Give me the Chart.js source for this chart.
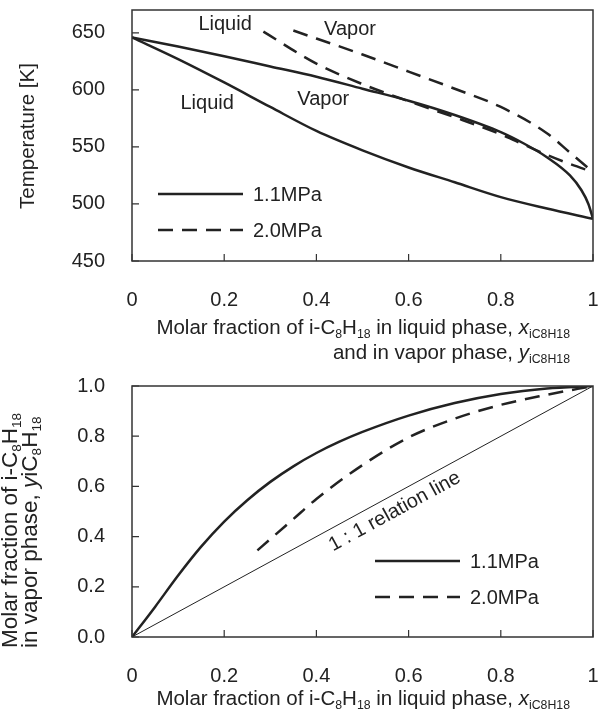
<!DOCTYPE html>
<html>
<head>
<meta charset="utf-8">
<script src="https://cdn.jsdelivr.net/npm/chart.js@4.4.1/dist/chart.umd.min.js"></script>
<style>
  body { margin: 0; background: #fff; }
  #page { position: relative; width: 601px; height: 709px; overflow: hidden;
          font-family: "Liberation Sans", Arial, sans-serif; color: #222; }
  canvas { position: absolute; left: 0; }
  .title { position: absolute; font-size: 20.5px; line-height: 20px; white-space: nowrap; }
  .title sub { font-size: 0.6em; vertical-align: -0.3em; line-height: 0; }
  .xt { right: 31px; text-align: right; }
  .yt { transform-origin: 0 0; transform: rotate(-90deg); }
</style>
</head>
<body>
<div id="page">
  <canvas id="tx" width="601" height="320" style="top:0"></canvas>
  <canvas id="xy" width="601" height="340" style="top:360px"></canvas>

  <div class="title xt" style="top:317px">Molar fraction of i-C<sub>8</sub>H<sub>18</sub> in liquid phase, <i>x</i><sub>iC8H18</sub></div>
  <div class="title xt" style="top:342px">and in vapor phase, <i>y</i><sub>iC8H18</sub></div>
  <div class="title yt" style="left:17px; top:236px; width:200px; text-align:center">Temperature [K]</div>

  <div class="title xt" style="top:688px">Molar fraction of i-C<sub>8</sub>H<sub>18</sub> in liquid phase, <i>x</i><sub>iC8H18</sub></div>
  <div class="title yt" style="left:0; top:648px; font-size:22.5px">Molar fraction of i-C<sub>8</sub>H<sub>18</sub><br>in vapor phase, <i>y</i>iC<sub>8</sub>H<sub>18</sub></div>
</div>
<script>
// ---- tick labels ----
const fracTicks = [0, 0.2, 0.4, 0.6, 0.8, 1];
const tempTicks = [450, 500, 550, 600, 650];
const vaporTicks = [0, 0.2, 0.4, 0.6, 0.8, 1.0];

// ---- T-x-y diagram ----
// 1.1 MPa liquid (bubble) line
const liq11X = [0, 0.1, 0.2, 0.3, 0.4, 0.5, 0.6, 0.7, 0.8, 0.9, 1];
const liq11T = [646, 627, 606.5, 585, 564, 547, 532, 519, 506, 496, 487];
// 1.1 MPa vapor (dew) line
const vap11X = [0, 0.1, 0.2, 0.3, 0.4, 0.5, 0.6, 0.7, 0.8, 0.85, 0.9, 0.95, 0.975, 0.99, 1];
const vap11T = [646, 638, 629.5, 620.5, 611.5, 601, 590.5, 578, 563, 553, 541, 525, 512, 500, 487];
// 2.0 MPa liquid line
const liq20X = [0.285, 0.4, 0.5, 0.6, 0.7, 0.8, 0.85, 0.9, 0.95, 1];
const liq20T = [651, 623, 605, 590, 576, 561, 552, 543, 535, 528];
// 2.0 MPa vapor line
const vap20X = [0.35, 0.4, 0.5, 0.6, 0.7, 0.8, 0.9, 0.95, 1];
const vap20T = [652, 645, 631, 616, 601, 585, 562, 545, 528];

// ---- x-y diagram ----
const xy11X = [0, 0.05, 0.1, 0.15, 0.2, 0.25, 0.3, 0.35, 0.4, 0.45, 0.5, 0.6, 0.7, 0.8, 0.9, 1];
const xy11Y = [0, 0.12, 0.245, 0.36, 0.46, 0.545, 0.618, 0.68, 0.733, 0.778, 0.817, 0.882, 0.932, 0.968, 0.99, 1];
const xy20X = [0.272, 0.3, 0.35, 0.4, 0.5, 0.6, 0.7, 0.8, 0.9, 1];
const xy20Y = [0.345, 0.39, 0.47, 0.55, 0.685, 0.795, 0.87, 0.925, 0.965, 1];
const diagX = [0, 1];
const diagY = [0, 1];

const INK = '#222';
const FONT = 'Liberation Sans, Arial, sans-serif';
const DASH = [15, 9];

const pts = (xs, ys) => xs.map((x, i) => ({ x: x, y: ys[i] }));

function curve(label, xs, ys, dashed) {
  return {
    label: label, data: pts(xs, ys), borderColor: INK, borderWidth: 2.5,
    borderDash: dashed ? DASH : [], pointRadius: 0, fill: false,
    cubicInterpolationMode: 'monotone'
  };
}

// box, inner tick marks, legend and notes
const framePlugin = {
  id: 'frame',
  afterDraw(chart, args, opts) {
    const { ctx, chartArea: a, scales } = chart;
    ctx.save();
    ctx.strokeStyle = '#333';
    ctx.lineWidth = 1.5;
    ctx.strokeRect(a.left, a.top, a.width, a.height);

    ctx.lineWidth = 1.2;
    ctx.beginPath();
    scales.x.ticks.forEach(t => {
      const px = scales.x.getPixelForValue(t.value);
      ctx.moveTo(px, a.bottom); ctx.lineTo(px, a.bottom - 7);
    });
    scales.y.ticks.forEach(t => {
      const py = scales.y.getPixelForValue(t.value);
      ctx.moveTo(a.left, py); ctx.lineTo(a.left + 7, py);
    });
    ctx.stroke();

    ctx.font = '20px ' + FONT;
    ctx.fillStyle = INK;
    ctx.textBaseline = 'middle';

    // legend: one row per named entry
    const lg = opts.legend;
    opts.legendItems.forEach((item, i) => {
      const y = lg.y + i * lg.row;
      ctx.strokeStyle = INK;
      ctx.lineWidth = 2.5;
      ctx.setLineDash(item.dashed ? DASH : []);
      ctx.beginPath();
      ctx.moveTo(lg.x, y); ctx.lineTo(lg.x + lg.len, y);
      ctx.stroke();
      ctx.setLineDash([]);
      ctx.textAlign = 'left';
      ctx.fillText(item.text, lg.x + lg.len + 10, y + 1);
    });

    // notes placed in data coordinates
    (opts.notes || []).forEach(n => {
      const px = scales.x.getPixelForValue(n.x);
      const py = scales.y.getPixelForValue(n.y);
      ctx.save();
      ctx.translate(px, py);
      if (n.along) {
        const ang = Math.atan2(scales.y.getPixelForValue(1) - scales.y.getPixelForValue(0),
                               scales.x.getPixelForValue(1) - scales.x.getPixelForValue(0));
        ctx.rotate(ang);
      }
      ctx.textAlign = 'center';
      ctx.fillText(n.text, 0, 0);
      ctx.restore();
    });
    ctx.restore();
  }
};

function xAxis(height) {
  return {
    type: 'linear', min: 0, max: 1,
    afterBuildTicks: s => { s.ticks = fracTicks.map(v => ({ value: v })); },
    // fixed axis size, and no extra edge padding from the tick padding
    afterFit: s => { s.height = height; s.paddingLeft = 0; s.paddingRight = 0; },
    grid: { display: false, drawTicks: false },
    border: { display: false },
    ticks: {
      padding: 27, color: INK, font: { family: FONT, size: 20 },
      callback: v => (v === 0 || v === 1) ? String(v) : v.toFixed(1)
    }
  };
}

function yAxis(min, max, ticks, fmt) {
  return {
    type: 'linear', min: min, max: max,
    afterBuildTicks: s => { s.ticks = ticks.map(v => ({ value: v })); },
    afterFit: s => { s.width = 132; s.paddingTop = 0; s.paddingBottom = 0; },
    grid: { display: false, drawTicks: false },
    border: { display: false },
    ticks: { padding: 27, color: INK, font: { family: FONT, size: 20 }, callback: fmt }
  };
}

new Chart(document.getElementById('tx'), {
  type: 'line',
  data: {
    datasets: [
      curve('1.1MPa liquid', liq11X, liq11T, false),
      curve('1.1MPa vapor', vap11X, vap11T, false),
      curve('2.0MPa liquid', liq20X, liq20T, true),
      curve('2.0MPa vapor', vap20X, vap20T, true)
    ]
  },
  options: {
    responsive: false, animation: false,
    layout: { padding: { top: 10, right: 8, left: 0, bottom: 0 } },
    scales: {
      x: xAxis(59),
      y: yAxis(450, 670, tempTicks, v => String(v))
    },
    plugins: {
      legend: { display: false }, tooltip: { enabled: false },
      frame: {
        legend: { x: 158, y: 194, len: 85, row: 36 },
        legendItems: [{ text: '1.1MPa', dashed: false }, { text: '2.0MPa', dashed: true }],
        notes: [
          { text: 'Liquid', x: 0.202, y: 657.5 },
          { text: 'Vapor', x: 0.473, y: 653 },
          { text: 'Liquid', x: 0.163, y: 588 },
          { text: 'Vapor', x: 0.415, y: 592 }
        ]
      }
    }
  },
  plugins: [framePlugin]
});

const diag = curve('1 : 1 relation line', diagX, diagY, false);
diag.borderWidth = 1;
diag.cubicInterpolationMode = 'default';
diag.tension = 0;

new Chart(document.getElementById('xy'), {
  type: 'line',
  data: {
    datasets: [
      curve('1.1MPa', xy11X, xy11Y, false),
      curve('2.0MPa', xy20X, xy20Y, true),
      diag
    ]
  },
  options: {
    responsive: false, animation: false,
    layout: { padding: { top: 26, right: 8, left: 0, bottom: 0 } },
    scales: {
      x: xAxis(63),
      y: yAxis(0, 1, vaporTicks, v => v.toFixed(1))
    },
    plugins: {
      legend: { display: false }, tooltip: { enabled: false },
      frame: {
        legend: { x: 375, y: 201, len: 85, row: 36 },
        legendItems: [{ text: '1.1MPa', dashed: false }, { text: '2.0MPa', dashed: true }],
        notes: [{ text: '1 : 1 relation line', x: 0.57, y: 0.5, along: true }]
      }
    }
  },
  plugins: [framePlugin]
});
</script>
</body>
</html>
